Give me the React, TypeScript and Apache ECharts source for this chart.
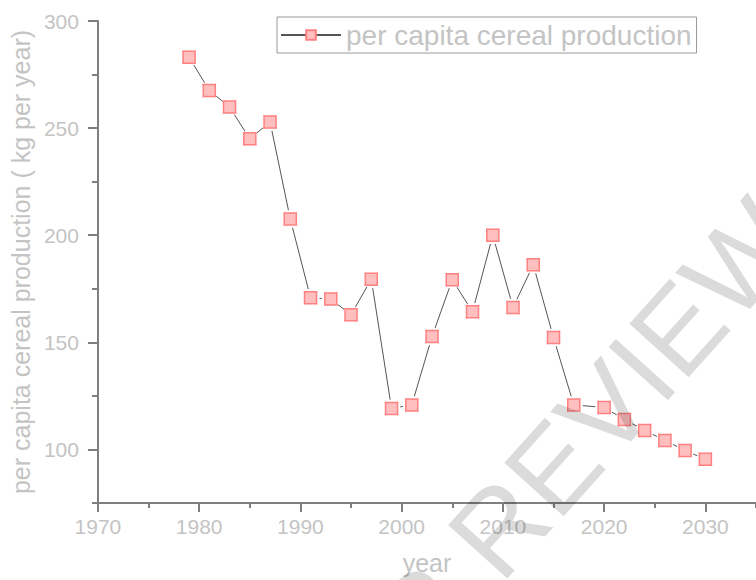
import React, { useEffect, useRef } from "react";
import * as echarts from "echarts";

const years = [1979, 1981, 1983, 1985, 1987, 1989, 1991, 1993, 1995, 1997, 1999, 2001, 2003, 2005, 2007, 2009, 2011, 2013, 2015, 2017, 2020, 2022, 2024, 2026, 2028, 2030];
const production = [283.1, 267.6, 259.8, 245.0, 252.9, 207.6, 170.8, 170.2, 162.9, 179.5, 119.1, 120.8, 152.7, 179.2, 164.3, 200.0, 166.3, 186.2, 152.2, 120.8, 119.6, 114.0, 108.9, 104.2, 99.5, 95.4];
const xMajorTicks = [1970, 1980, 1990, 2000, 2010, 2020, 2030];
const xMinorTicks = [1975, 1985, 1995, 2005, 2015, 2025, 2035];
const yMajorTicks = [100, 150, 200, 250, 300];
const yMinorTicks = [75, 125, 175, 225, 275];
const seriesName = "per capita cereal production";
const yAxisName = "per capita cereal production ( kg per year)";
const xAxisName = "year";
const watermark = "PEER REVIEW";

const FONT = "Liberation Sans, Arial, sans-serif";
const LABEL = "#c4c4c4";
const AXIS = "#7f7f7f";

export default function App() {
  const ref = useRef<HTMLDivElement>(null);
  useEffect(() => {
    if (!ref.current) return;
    const chart = echarts.init(ref.current, undefined, { renderer: "svg" });
    const pts = years.map((y, i) => [y, production[i]]);
    const axisLineStyle = { lineStyle: { color: AXIS, width: 2 } };
    chart.setOption({
      animation: false,
      backgroundColor: "#ffffff",
      textStyle: { fontFamily: FONT },
      grid: { left: 97, top: 21, width: 664, height: 483 },
      legend: {
        data: [seriesName],
        left: 277,
        top: 17,
        borderColor: "#999999",
        borderWidth: 1,
        borderRadius: 0,
        padding: [4, 5, 4, 3],
        itemWidth: 60,
        itemHeight: 12,
        itemGap: 6,
        textStyle: { fontSize: 28, color: LABEL, fontFamily: FONT },
      },
      xAxis: [
        {
          type: "value",
          min: 1970,
          max: 2035,
          interval: 10,
          name: xAxisName,
          nameLocation: "middle",
          nameGap: 47,
          nameTextStyle: { fontSize: 25, color: LABEL, fontFamily: FONT },
          axisLine: axisLineStyle,
          axisTick: { customValues: xMajorTicks, length: 9, lineStyle: { color: AXIS, width: 2 } },
          axisLabel: {
            customValues: xMajorTicks,
            fontSize: 21,
            color: LABEL,
            margin: 13,
            fontFamily: FONT,
            formatter: (v: number) => String(v),
          },
          splitLine: { show: false },
        },
        {
          type: "value",
          position: "bottom",
          min: 1970,
          max: 2035,
          axisLine: { show: false },
          axisTick: { customValues: xMinorTicks, length: 5, lineStyle: { color: AXIS, width: 2 } },
          axisLabel: { show: false },
          splitLine: { show: false },
        },
      ],
      yAxis: [
        {
          type: "value",
          min: 75,
          max: 300,
          position: "left",
          name: yAxisName,
          nameLocation: "middle",
          nameRotate: 90,
          nameGap: 62,
          nameTextStyle: { fontSize: 25, color: LABEL, fontFamily: FONT },
          axisLine: { show: true, ...axisLineStyle },
          axisTick: { customValues: yMajorTicks, length: 10, lineStyle: { color: AXIS, width: 2 } },
          axisLabel: {
            customValues: yMajorTicks,
            fontSize: 21,
            color: LABEL,
            margin: 19,
            fontFamily: FONT,
            formatter: (v: number) => String(v),
          },
          splitLine: { show: false },
        },
        {
          type: "value",
          min: 75,
          max: 300,
          position: "left",
          axisLine: { show: false },
          axisTick: { customValues: yMinorTicks, length: 6, lineStyle: { color: AXIS, width: 2 } },
          axisLabel: { show: false },
          splitLine: { show: false },
        },
      ],
      series: [
        {
          name: seriesName,
          type: "line",
          data: pts,
          symbol: "rect",
          symbolSize: 12,
          z: 2,
          itemStyle: { color: "#ffbfbf", borderColor: "#ff8080", borderWidth: 1.5 },
          lineStyle: { color: "#555555", width: 1 },
          silent: true,
        },
        {
          name: "mask",
          type: "scatter",
          data: pts,
          symbol: "circle",
          symbolSize: 18,
          z: 5,
          itemStyle: { color: "#ffffff", opacity: 1 },
          silent: true,
        },
        {
          name: "markers",
          type: "scatter",
          data: pts,
          symbol: "rect",
          symbolSize: 12,
          z: 6,
          itemStyle: { color: "#ffbfbf", borderColor: "#ff8080", borderWidth: 1.5, opacity: 1 },
          silent: true,
        },
      ],
      graphic: [
        {
          type: "text",
          x: 508,
          y: 518,
          rotation: (48 * Math.PI) / 180,
          z: 100,
          silent: true,
          style: {
            text: watermark,
            fontSize: 116,
            fontFamily: FONT,
            fill: "rgba(0,0,0,0.14)",
            align: "center",
            verticalAlign: "middle",
          },
        },
      ],
    });
    return () => chart.dispose();
  }, []);
  return <div ref={ref} style={{ position: "fixed", left: 0, top: 0, width: 756, height: 580 }} />;
}
